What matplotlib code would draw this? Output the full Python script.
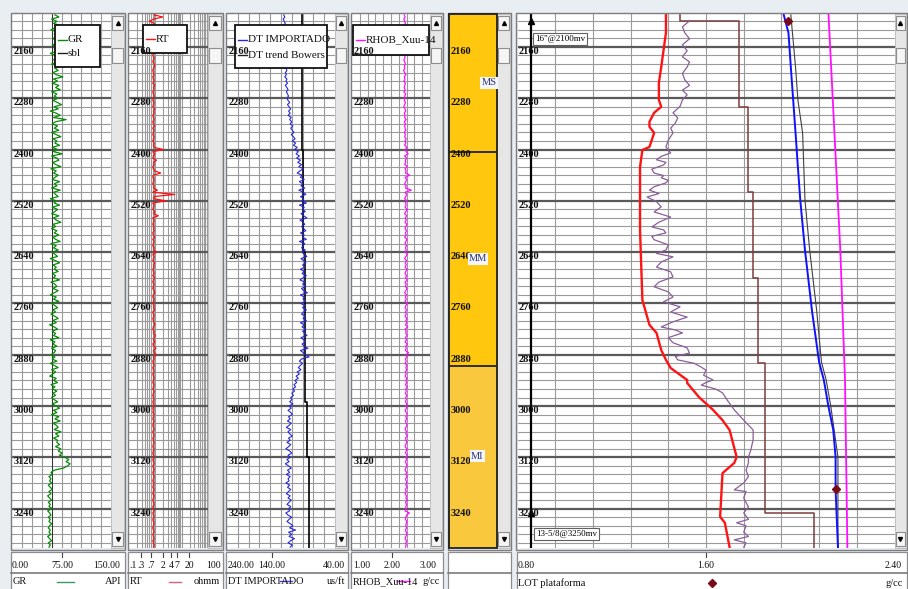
import matplotlib
matplotlib.use("Agg")
import matplotlib.pyplot as plt
from matplotlib.patches import Rectangle
from matplotlib.transforms import blended_transform_factory as blend

W, H = 908, 589
SERIF = ["Liberation Serif", "DejaVu Serif"]

# ---------------- depth axis ----------------
DEPTH_TOP, DEPTH_BOT = 2083, 3332
MAJOR_DEPTHS = [2160, 2280, 2400, 2520, 2640, 2760, 2880, 3000, 3120, 3240]
MINOR_STEP = 20

# ---------------- log samples (every 5 m from 2085 m) ----------------
LOG_START, LOG_STEP = 2085, 5
GR_API = [
    65, 71, 60, 68, 63, 74, 66, 59, 70, 64, 72, 62, 67, 75, 61, 69, 64, 70, 58, 66,
    72, 63, 68, 60, 74, 65, 70, 62, 67, 77, 63, 69, 61, 71, 66, 73, 60, 68, 64, 70,
    62, 69, 75, 64, 70, 58, 67, 73, 63, 82, 66, 61, 69, 64, 71, 60, 67, 74, 62, 68,
    65, 72, 61, 69, 63, 76, 60, 68, 71, 62, 66, 74, 59, 67, 63, 70, 65, 61, 72, 64,
    68, 60, 73, 63, 66, 70, 58, 67, 64, 72, 61, 69, 65, 60, 71, 63, 67, 74, 62, 66,
    60, 68, 64, 71, 62, 66, 73, 59, 67, 63, 70, 61, 65, 69, 58, 66, 72, 62, 67, 64,
    70, 61, 66, 63, 72, 59, 65, 68, 62, 70, 64, 58, 67, 63, 71, 60, 65, 69, 62, 66,
    59, 65, 70, 62, 67, 57, 64, 69, 61, 66, 63, 71, 58, 65, 62, 68, 60, 66, 64, 59,
    65, 61, 68, 58, 64, 70, 60, 66, 62, 57, 67, 63, 69, 59, 65, 61, 68, 62, 66, 60,
    64, 69, 61, 67, 72, 63, 68, 60, 71, 65, 73, 62, 67, 70, 64, 74, 66, 71, 63, 69,
    68, 72, 66, 74, 70, 76, 72, 80, 86, 82, 88, 84, 78, 64, 59, 61, 56, 59, 57, 60,
    55, 58, 61, 56, 59, 54, 57, 60, 55, 58, 56, 61, 54, 57, 59, 55, 58, 56, 60, 57,
    55, 58, 56, 59, 54, 57, 60, 55, 58, 56]
RT_OHMM = [
    0.9, 1.9, 0.85, 0.6, 0.9, 0.8, 0.95, 0.85, 0.9, 0.8, 0.85, 0.95, 0.8, 0.9, 0.85, 0.8, 0.9, 0.95, 0.85, 0.8,
    0.9, 0.85, 0.8, 0.9, 0.95, 0.85, 0.8, 0.85, 0.9, 0.8, 0.85, 0.9, 0.8, 0.95, 0.85, 0.9, 0.8, 0.85, 0.9, 0.85,
    0.8, 0.9, 0.85, 0.8, 0.95, 0.85, 0.9, 0.8, 0.85, 0.9, 0.8, 0.85, 0.95, 0.8, 0.9, 0.85, 0.8, 0.9, 0.85, 0.8,
    0.9, 0.85, 0.9, 2.0, 0.8, 0.95, 0.85, 0.8, 1.1, 0.85, 0.9, 0.8, 0.85, 0.95, 1.6, 0.85, 0.8, 0.9, 0.85, 0.8,
    0.9, 0.85, 1.2, 0.8, 5.5, 0.9, 0.85, 2.5, 0.8, 0.9, 0.85, 0.8, 0.95, 0.85, 1.3, 0.8, 0.9, 0.85, 0.8, 0.9,
    0.85, 0.9, 0.8, 0.85, 0.95, 0.8, 0.9, 0.85, 0.8, 0.9, 0.85, 1.1, 0.8, 0.9, 0.85, 0.8, 0.95, 0.85, 0.9, 0.8,
    0.85, 0.9, 0.8, 0.95, 0.85, 0.8, 0.9, 0.85, 0.8, 0.9, 0.95, 0.85, 0.8, 0.9, 0.85, 0.8, 0.9, 0.85, 0.95, 0.8,
    0.85, 0.9, 0.8, 0.85, 0.9, 0.95, 0.85, 0.8, 0.9, 0.85, 1.0, 0.9, 0.85, 0.95, 0.8, 0.9, 1.05, 0.85, 0.9, 1.1,
    0.85, 0.9, 0.8, 0.85, 0.9, 0.8, 0.85, 0.9, 0.8, 0.85, 0.9, 0.85, 0.8, 0.9, 0.85, 0.8, 0.9, 0.85, 0.8, 0.85,
    0.9, 0.8, 0.85, 0.9, 0.8, 0.85, 0.8, 0.9, 0.85, 0.8, 0.9, 0.85, 0.8, 0.85, 0.9, 0.8, 0.85, 0.9, 0.8, 0.85,
    0.9, 0.85, 0.8, 0.9, 0.85, 0.8, 0.85, 0.9, 0.8, 0.85, 0.9, 0.8, 0.85, 0.9, 0.8, 0.85, 0.9, 0.85, 0.8, 0.9,
    0.85, 0.8, 0.9, 0.85, 0.8, 0.9, 0.85, 0.8, 0.85, 0.9, 0.8, 0.85, 0.9, 0.8, 0.85, 0.9, 0.8, 0.85, 0.9, 0.85,
    0.8, 0.85, 0.9, 0.8, 0.85, 0.9, 0.8, 0.85, 0.9, 0.85]
DT_USFT = [
    135, 133, 136, 134, 132, 135, 133, 136, 134, 131, 135, 133, 134, 132, 136, 133, 131, 134, 132, 135,
    133, 131, 134, 130, 133, 131, 129, 132, 130, 133, 129, 131, 128, 132, 129, 127, 130, 128, 126, 129,
    127, 124, 128, 125, 122, 126, 123, 127, 121, 124, 120, 123, 118, 122, 119, 116, 121, 117, 114, 119,
    113, 117, 110, 115, 108, 112, 106, 111, 104, 109, 102, 107, 99, 105, 110, 101, 104, 97, 106, 100,
    103, 96, 107, 99, 94, 104, 98, 101, 93, 106, 97, 100, 95, 103, 98, 92, 105, 99, 96, 102,
    98, 94, 104, 97, 100, 93, 106, 96, 99, 102, 95, 101, 97, 92, 103, 98, 94, 100, 96, 104,
    97, 101, 93, 99, 105, 96, 100, 94, 102, 98, 91, 104, 97, 99, 95, 103, 96, 100, 93, 98,
    102, 95, 99, 93, 104, 97, 101, 94, 100, 96, 92, 103, 98, 95, 101, 97, 90, 104, 99, 96,
    88, 102, 106, 100, 104, 108, 103, 110, 106, 112, 108, 114, 111, 116, 113, 118, 115, 120, 117, 122,
    120, 124, 118, 125, 121, 127, 122, 119, 126, 123, 128, 121, 125, 130, 122, 127, 124, 119, 126, 123,
    129, 122, 126, 131, 124, 120, 127, 123, 129, 125, 132, 126, 121, 128, 124, 130, 123, 127, 125, 131,
    124, 128, 122, 126, 130, 123, 127, 121, 125, 129, 122, 126, 124, 131, 127, 120, 125, 129, 123, 118,
    124, 113, 126, 120, 125, 115, 122, 127, 119, 123]
RHOB_GCC = [
    2.34, 2.36, 2.33, 2.35, 2.37, 2.33, 2.36, 2.34, 2.32, 2.35, 2.37, 2.34, 2.36, 2.33, 2.35, 2.38, 2.34, 2.36, 2.33, 2.35,
    2.36, 2.33, 2.35, 2.37, 2.34, 2.36, 2.32, 2.35, 2.38, 2.34, 2.36, 2.33, 2.37, 2.35, 2.34, 2.36, 2.33, 2.38, 2.35, 2.36,
    2.34, 2.37, 2.35, 2.33, 2.36, 2.38, 2.34, 2.36, 2.35, 2.39, 2.34, 2.37, 2.35, 2.36, 2.38, 2.34, 2.37, 2.35, 2.39, 2.36,
    2.38, 2.35, 2.41, 2.36, 2.39, 2.44, 2.35, 2.40, 2.37, 2.38, 2.35, 2.42, 2.36, 2.39, 2.37, 2.48, 2.36, 2.40, 2.38, 2.35,
    2.39, 2.37, 2.52, 2.36, 2.40, 2.38, 2.35, 2.41, 2.37, 2.39, 2.36, 2.42, 2.38, 2.35, 2.40, 2.37, 2.39, 2.36, 2.41, 2.38,
    2.36, 2.40, 2.37, 2.39, 2.35, 2.41, 2.38, 2.36, 2.40, 2.37, 2.39, 2.36, 2.42, 2.38, 2.35, 2.40, 2.37, 2.39, 2.36, 2.41,
    2.38, 2.36, 2.40, 2.37, 2.42, 2.36, 2.39, 2.37, 2.41, 2.38, 2.35, 2.40, 2.37, 2.39, 2.36, 2.42, 2.38, 2.36, 2.40, 2.37,
    2.39, 2.36, 2.41, 2.38, 2.40, 2.37, 2.43, 2.36, 2.39, 2.38, 2.41, 2.37, 2.40, 2.36, 2.42, 2.38, 2.39, 2.37, 2.45, 2.38,
    2.40, 2.37, 2.39, 2.36, 2.41, 2.38, 2.40, 2.37, 2.39, 2.36, 2.41, 2.38, 2.40, 2.37, 2.42, 2.38, 2.39, 2.37, 2.40, 2.38,
    2.39, 2.37, 2.41, 2.38, 2.40, 2.36, 2.39, 2.42, 2.38, 2.40, 2.37, 2.39, 2.41, 2.38, 2.36, 2.40, 2.38, 2.42, 2.37, 2.39,
    2.40, 2.38, 2.36, 2.41, 2.39, 2.37, 2.42, 2.38, 2.40, 2.37, 2.39, 2.41, 2.38, 2.36, 2.40, 2.38, 2.42, 2.37, 2.39, 2.40,
    2.38, 2.41, 2.37, 2.39, 2.36, 2.40, 2.38, 2.42, 2.37, 2.40, 2.38, 2.39, 2.36, 2.47, 2.40, 2.38, 2.37, 2.41, 2.39, 2.38,
    2.40, 2.37, 2.39, 2.41, 2.38, 2.36, 2.40, 2.38, 2.39, 2.37]
SBL_API = 60

# DT trend (Bowers) - step profile
DT_TREND_BOUNDS = [2083, 2400, 2640, 2990, 3120, 3332]
DT_TREND_VALS = [102, 99, 95, 92, 88]

# ---------------- zones ----------------
ZONE_NAMES = ["MS", "MM", "MI"]
ZONE_BOUNDS = [2083, 2406, 2907, 3332]
ZONE_COLORS = ["#FFC70D", "#FFC70D", "#F9C83C"]
ZONE_LABEL_DEPTH = [2244, 2656, 3117]

# ---------------- pressure / gradient track (g/cc) ----------------
FRAC_DEPTH = [2085, 2127, 2167, 2207, 2244, 2284, 2300, 2314, 2335, 2347, 2361, 2394, 2401, 2441,
              2518, 2588, 2752, 2810, 2829, 2869, 2892, 2911, 2923, 2939, 2946, 2979, 3009, 3033,
              3056, 3119, 3133, 3157, 3259, 3273, 3330]
FRAC_VAL = [1.43, 1.43, 1.42, 1.41, 1.40, 1.40, 1.41, 1.38, 1.36, 1.36, 1.38, 1.36, 1.33, 1.32,
            1.32, 1.32, 1.33, 1.36, 1.39, 1.41, 1.43, 1.45, 1.48, 1.52, 1.52, 1.57, 1.63, 1.67,
            1.70, 1.73, 1.72, 1.67, 1.66, 1.68, 1.70]
PP_DEPTH = [2099, 2113, 2127, 2141, 2155, 2169, 2183, 2195, 2207, 2222, 2237, 2250, 2261, 2272, 2284,
            2299, 2314, 2326, 2338, 2350, 2361, 2378, 2394, 2408, 2416, 2424, 2430, 2436, 2446,
            2455, 2461, 2466, 2472, 2478, 2487, 2495, 2503, 2511, 2522, 2534, 2546, 2558, 2570, 2581,
            2588, 2595, 2603, 2611, 2623, 2635, 2643, 2651, 2663, 2675, 2686, 2698, 2710, 2721, 2733,
            2745, 2756, 2768, 2780, 2792, 2803, 2815, 2822, 2829, 2840, 2852, 2864, 2876, 2884, 2892,
            2900, 2909, 2916, 2928, 2939, 2945, 2951, 2960, 2969, 2986, 3009, 3033, 3056, 3079, 3103,
            3120, 3133, 3150, 3165, 3180, 3196, 3200, 3215, 3236, 3250, 3265, 3273, 3280, 3295, 3305,
            3313, 3320, 3330]
PP_VAL = [1.53, 1.50, 1.51, 1.53, 1.50, 1.52, 1.50, 1.53, 1.52, 1.50, 1.51, 1.53, 1.50, 1.52, 1.50,
          1.49, 1.46, 1.48, 1.47, 1.45, 1.46, 1.44, 1.43, 1.45, 1.41, 1.39, 1.43, 1.42, 1.37,
          1.38, 1.42, 1.41, 1.44, 1.43, 1.38, 1.36, 1.40, 1.35, 1.39, 1.41, 1.38, 1.45, 1.40, 1.37,
          1.42, 1.43, 1.37, 1.38, 1.44, 1.43, 1.39, 1.46, 1.41, 1.39, 1.45, 1.46, 1.40, 1.38, 1.44,
          1.46, 1.42, 1.49, 1.45, 1.52, 1.46, 1.41, 1.47, 1.50, 1.44, 1.46, 1.52, 1.53, 1.47, 1.48,
          1.55, 1.58, 1.60, 1.59, 1.63, 1.60, 1.58, 1.64, 1.67, 1.69, 1.72, 1.76, 1.80, 1.80, 1.79,
          1.78, 1.78, 1.77, 1.78, 1.76, 1.72, 1.77, 1.76, 1.78, 1.76, 1.78, 1.73, 1.77, 1.76, 1.78,
          1.72, 1.77, 1.76]
MW_BOUNDS = [2083, 2100, 2300, 2500, 2700, 2900, 3250, 3332]
MW_VALS = [1.49, 1.74, 1.78, 1.80, 1.82, 1.85, 2.06]
BLUE_DEPTH = [2085, 2127, 2207, 2284, 2361, 2441, 2518, 2635, 2778, 2897, 2939, 3002, 3056, 3119, 3196, 3330]
BLUE_VAL = [1.93, 1.95, 1.96, 1.97, 1.98, 1.99, 2.00, 2.02, 2.05, 2.08, 2.10, 2.12, 2.14, 2.15, 2.15, 2.16]
OB_DEPTH = [2085, 2207, 2284, 2361, 2518, 2635, 2778, 2897, 2939, 3002, 3119, 3196, 3330]
OB_VAL = [1.96, 1.98, 1.99, 2.01, 2.02, 2.04, 2.07, 2.09, 2.11, 2.13, 2.16, 2.16, 2.16]
MAG_DEPTH = [2085, 2635, 2939, 3330]
MAG_VAL = [2.12, 2.17, 2.19, 2.20]
LOT_DEPTH = [2100, 3195]
LOT_VAL = [1.95, 2.15]
CASING_DEPTH = [2100, 3250]
CASING_LABELS = ['16"@2100mv', '13-5/8@3250mv']
CASING_VAL = 0.857

# ---------------- layout (pixels) ----------------
Y0, Y1 = 14, 548
TRACKS = {  # data-area x0, x1, scrollbar right edge
    "GR": (12, 111, 124),
    "RT": (129, 208, 222),
    "DT": (227, 335, 347),
    "RHOB": (352, 430, 442),
    "ZONE": (449, 497, 510),
    "T6": (517.5, 894.5, 906),
}

fig = plt.figure(figsize=(W / 100, H / 100), dpi=100)
fig.patch.set_facecolor("#e9eef3")


def px_axes(x0, x1, z=1):
    return fig.add_axes([x0 / W, 1 - Y1 / H, (x1 - x0) / W, (Y1 - Y0) / H], zorder=z)


def step_xy(bounds, vals):
    xs, ys = [], []
    for i, v in enumerate(vals):
        xs += [v, v]
        ys += [bounds[i], bounds[i + 1]]
    return xs, ys


def setup(ax, xlim, vgrid, scale="linear", grid=True):
    ax.set_xscale(scale)
    ax.set_xlim(*xlim)
    ax.set_ylim(DEPTH_BOT, DEPTH_TOP)
    ax.set_xticks([])
    ax.set_xticks([], minor=True)
    ax.set_yticks([])
    ax.set_yticks([], minor=True)
    ax.set_facecolor("white")
    for s in ax.spines.values():
        s.set_visible(False)
    if grid:
        d = 2100
        while d < DEPTH_BOT:
            if d not in MAJOR_DEPTHS:
                ax.axhline(d, color="#9a9a9a", lw=0.8, zorder=0.5)
            d += MINOR_STEP
        for d in MAJOR_DEPTHS:
            ax.axhline(d, color="#5a5a5a", lw=1.6, zorder=0.6)
        for v in vgrid:
            ax.axvline(v, color="#9a9a9a", lw=0.8, zorder=0.5)


log_depths = [LOG_START + LOG_STEP * i for i in range(len(GR_API))]

# --- GR
ax_gr = px_axes(*TRACKS["GR"][:2])
setup(ax_gr, (0, 150), [15 * k for k in range(1, 10)])
ax_gr.axvline(SBL_API, color="#303030", lw=0.7, zorder=1)
ax_gr.plot(GR_API, log_depths, color="#0a8a0a", lw=0.9, zorder=2)

# --- RT
ax_rt = px_axes(*TRACKS["RT"][:2])
rt_grid = [m * 10 ** e for e in (-1, 0, 1) for m in range(1, 10)][1:]
setup(ax_rt, (0.1, 100), rt_grid, scale="log")
ax_rt.plot(RT_OHMM, log_depths, color="#ff1010", lw=0.9, zorder=2)

# --- DT
ax_dt = px_axes(*TRACKS["DT"][:2])
setup(ax_dt, (240, 40), [240 - 20 * k for k in range(1, 10)])
xs, ys = step_xy(DT_TREND_BOUNDS, DT_TREND_VALS)
ax_dt.plot(xs, ys, color="black", lw=1.2, zorder=2)
ax_dt.plot(DT_USFT, log_depths, color="#2828d8", lw=0.8, zorder=3)

# --- RHOB
ax_rh = px_axes(*TRACKS["RHOB"][:2])
setup(ax_rh, (1, 3), [1 + 0.2 * k for k in range(1, 10)])
ax_rh.plot(RHOB_GCC, log_depths, color="#ff10ff", lw=0.9, zorder=2)

# --- zones
ax_zn = px_axes(*TRACKS["ZONE"][:2])
setup(ax_zn, (0, 1), [], grid=False)
for i, name in enumerate(ZONE_NAMES):
    ax_zn.axhspan(ZONE_BOUNDS[i], ZONE_BOUNDS[i + 1], color=ZONE_COLORS[i], zorder=0.5)
for b in ZONE_BOUNDS[1:-1]:
    ax_zn.axhline(b, color="#202020", lw=1.3, zorder=1)

# --- pressure track
ax_p = px_axes(*TRACKS["T6"][:2])
setup(ax_p, (0.8, 2.4), [0.8 + 0.16 * k for k in range(1, 10)])
ax_p.axvline(CASING_VAL, color="black", lw=1.6, zorder=2)
ax_p.plot([CASING_VAL] * 2, CASING_DEPTH, ls="none", marker="^", ms=5, color="black", zorder=3)
xs, ys = step_xy(MW_BOUNDS, MW_VALS)
ax_p.plot(xs, ys, color="#7e3c3c", lw=1.1, zorder=2)
ax_p.plot(PP_VAL, PP_DEPTH, color="#8a5f98", lw=0.9, zorder=3)
ax_p.plot(FRAC_VAL, FRAC_DEPTH, color="#ff1414", lw=1.7, zorder=3)
ax_p.plot(OB_VAL, OB_DEPTH, color="#404040", lw=0.8, zorder=3)
ax_p.plot(BLUE_VAL, BLUE_DEPTH, color="#1010ff", lw=1.4, zorder=4)
ax_p.plot(MAG_VAL, MAG_DEPTH, color="#ff10ff", lw=1.3, zorder=3)
ax_p.plot(LOT_VAL, LOT_DEPTH, ls="none", marker="D", ms=4.5, color="#7a0a1a", zorder=5)

# ---------------- overlay (pixel coordinates) ----------------
ov = fig.add_axes([0, 0, 1, 1], zorder=10)
ov.set_xlim(0, W)
ov.set_ylim(H, 0)
ov.axis("off")
depth_tr = blend(ov.transData, ax_gr.transData)


def txt(x, y, s, size=7.5, **kw):
    kw.setdefault("va", "center")
    ov.text(x, y, s, fontsize=size, family=SERIF, color=kw.pop("color", "#111111"), **kw)


# track frames and scrollbars
for key, (x0, x1, sx) in TRACKS.items():
    ov.add_patch(Rectangle((x0 - 1.5, Y0 - 1.5), sx - x0 + 2.5, Y1 - Y0 + 3, fc="none",
                           ec="#7c7c7c", lw=1.0))
    ov.add_patch(Rectangle((x1, Y0), sx - x1, Y1 - Y0, fc="#e6e6e6", ec="#b8b8b8", lw=0.6))
    bw = sx - x1 - 2
    for (by, mk) in ((Y0 + 2, "^"), (Y1 - 16, "v")):
        ov.add_patch(Rectangle((x1 + 1, by), bw, 14, fc="#f5f5f5", ec="#8e8e8e", lw=0.8))
        ov.plot(x1 + 1 + bw / 2, by + 7, marker=mk, ms=2.8, color="black")
    ov.add_patch(Rectangle((x1 + 1, 48), bw, 15, fc="#f5f5f5", ec="#8e8e8e", lw=0.8))

# zone frame
zx0, zx1, _ = TRACKS["ZONE"]
ov.add_patch(Rectangle((zx0, Y0), zx1 - zx0, Y1 - Y0, fc="none", ec="#202020", lw=1.3))


# legends inside tracks
def legend_box(x0, y0, x1, y1, entries):
    ov.add_patch(Rectangle((x0, y0), x1 - x0, y1 - y0, fc="white", ec="#111111", lw=1.3))
    for (ly, col, lab) in entries:
        ov.plot([x0 + 3, x0 + 12], [ly, ly], color=col, lw=1.0)
        txt(x0 + 13, ly, lab, size=8)


legend_box(55, 25, 100, 67, [(40, "#0a8a0a", "GR"), (53, "#202020", "sbl")])
legend_box(143, 25, 187, 53, [(39, "#ff1010", "RT")])
legend_box(235, 25, 327, 68, [(40, "#2828d8", "DT IMPORTADO"), (55, "#202020", "DT trend Bowers")])
legend_box(353, 25, 429, 55, [(40, "#ff10ff", "RHOB_Xuu-14")])

# depth labels
for key, (x0, x1, sx) in TRACKS.items():
    for d in MAJOR_DEPTHS:
        ov.text(x0 + 1.5, d, str(d), transform=depth_tr, fontsize=7.5, family=SERIF,
                va="top", ha="left", color="#111111", fontweight="bold")

# zone names
zlx = [489, 478, 477]
for i, name in enumerate(ZONE_NAMES):
    ov.text(zlx[i], ZONE_LABEL_DEPTH[i], name, transform=depth_tr, fontsize=7.5, family=SERIF,
            ha="center", va="center", color="#303070",
            bbox=dict(boxstyle="square,pad=0.12", fc="#f2f6ff", ec="none"))

# casing labels
ov.text(535, 39, CASING_LABELS[0], fontsize=6.5, family=SERIF, va="center", ha="left",
        bbox=dict(boxstyle="square,pad=0.25", fc="white", ec="#606060", lw=0.8))
ov.text(536, 534, CASING_LABELS[1], fontsize=6.5, family=SERIF, va="center", ha="left",
        bbox=dict(boxstyle="square,pad=0.25", fc="white", ec="#606060", lw=0.8))

# ---------------- headers ----------------
HY0, HYM = 552, 573
for key, (x0, x1, sx) in TRACKS.items():
    ov.add_patch(Rectangle((x0 - 1, HY0), sx - x0 + 1.5, 40, fc="white", ec="#8c8c8c", lw=0.9))
    ov.plot([x0 - 1, sx + 0.5], [HYM, HYM], color="#7a7a7a", lw=1.2)


def scale_row(positions, labels):
    has = ["left"] + ["center"] * (len(labels) - 2) + ["right"]
    for xp, lab, ha in zip(positions, labels, has):
        txt(xp, 565, lab, ha=ha, size=7)
        if ha == "center":
            ov.plot([xp, xp], [HY0 + 1, HY0 + 5], color="#444444", lw=0.8)


# GR
scale_row([12, 62, 120], ["0.00", "75.00", "150.00"])
txt(13, 582, "GR", size=7.5)
ov.plot([57, 74], [582, 582], color="#3a9a6a", lw=1.0)
txt(121, 582, "API", size=7.5, ha="right")
# RT
rt_lab = [".1", ".3", ".7", "2", "4", "7", "20", "100"]
rt_pos = [129, 141, 151, 163, 171, 177, 189, 221]
scale_row(rt_pos, rt_lab)
txt(130, 582, "RT", size=7.5)
ov.plot([169, 181], [582, 582], color="#e06080", lw=1.0)
txt(220, 582, "ohmm", size=7.5, ha="right")
# DT
scale_row([228, 272, 345], ["240.00", "140.00", "40.00"])
txt(228, 582, "DT IMPORTADO", size=7.5)
ov.plot([280, 292], [581, 581], color="#4040ff", lw=1.0)
txt(345, 582, "us/ft", size=7.5, ha="right")
# RHOB
scale_row([353, 392, 437], ["1.00", "2.00", "3.00"])
txt(353, 582, "RHOB_Xuu-14", size=7.5)
ov.plot([397, 410], [581, 581], color="#ff10ff", lw=1.0)
txt(440, 582, "g/cc", size=7.5, ha="right")
# pressure track
scale_row([518, 706, 902], ["0.80", "1.60", "2.40"])
txt(518, 583, "LOT plataforma", size=7.5)
ov.plot(712, 583, marker="D", ms=4, color="#7a0a1a")
txt(903, 583, "g/cc", size=7.5, ha="right")

fig.savefig("out.png", dpi=100, facecolor=fig.get_facecolor())
